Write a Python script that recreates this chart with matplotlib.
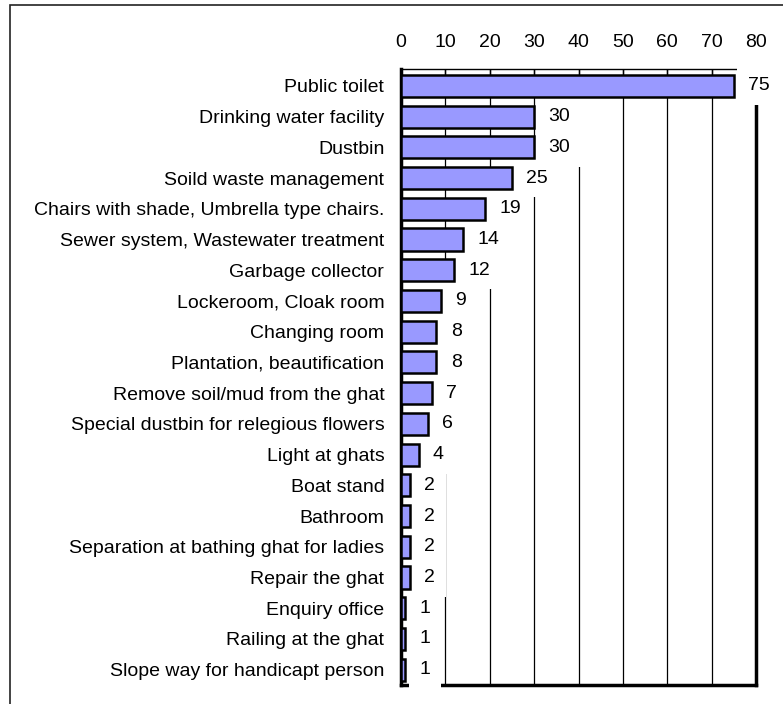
import matplotlib.pyplot as plt
from matplotlib.patches import Rectangle

categories = [
    "Public toilet",
    "Drinking water facility",
    "Dustbin",
    "Soild waste management",
    "Chairs with shade, Umbrella type chairs.",
    "Sewer system, Wastewater treatment",
    "Garbage collector",
    "Lockeroom, Cloak room",
    "Changing room",
    "Plantation, beautification",
    "Remove soil/mud from the ghat",
    "Special dustbin for relegious flowers",
    "Light at ghats",
    "Boat stand",
    "Bathroom",
    "Separation at bathing ghat for ladies",
    "Repair the ghat",
    "Enquiry office",
    "Railing at the ghat",
    "Slope way for handicapt person",
]
counts = [75, 30, 30, 25, 19, 14, 12, 9, 8, 8, 7, 6, 4, 2, 2, 2, 2, 1, 1, 1]
xticks = [0, 10, 20, 30, 40, 50, 60, 70, 80]

plt.rcParams['font.family'] = ['Liberation Sans', 'DejaVu Sans']
plt.rcParams['font.size'] = 14

fig = plt.figure(figsize=(7.83, 7.04), dpi=100)
ax = fig.add_axes([401 / 783, 1 - 685 / 704, 355 / 783, 616 / 704])

# outer border of the chart area
fig.patches.append(Rectangle((9.5 / 783, -0.1), 1.2, 1.1 - 5 / 704,
                             transform=fig.transFigure, fill=False,
                             edgecolor='#222222', linewidth=1.2))

ypos = list(range(len(categories)))
# bars stay above the label boxes so their outlines are never clipped
ax.barh(ypos, counts, height=0.72, color='#9999FF', edgecolor='black',
        linewidth=1.8, zorder=6)

# value labels sit on white boxes that mask the grid and spines
for y, v in zip(ypos, counts):
    ax.text(v + 3.2, y, str(v), ha='left', va='center', fontsize=14,
            zorder=5, clip_on=False,
            bbox=dict(boxstyle='square,pad=0.55', facecolor='white',
                      edgecolor='none'))

ax.set_xlim(0, 80)
ax.set_ylim(len(categories) - 0.5, -0.55)
ax.set_yticks(ypos)
ax.set_yticklabels(categories)
ax.set_xticks(xticks)
ax.xaxis.tick_top()
ax.tick_params(axis='x', direction='in', length=6, width=1, pad=13,
               labelsize=14)
ax.tick_params(axis='y', length=0, pad=12, labelsize=14)

ax.grid(axis='x', color='black', linewidth=0.9, zorder=0)
ax.set_axisbelow(True)

ax.spines['top'].set_linewidth(1.0)
for side in ['left', 'right', 'bottom']:
    ax.spines[side].set_linewidth(2.5)

fig.savefig('out.png', dpi=100)
